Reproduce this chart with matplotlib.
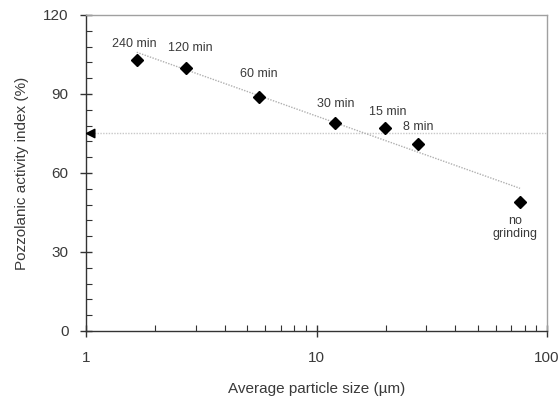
import matplotlib.pyplot as plt
import numpy as np
from matplotlib.ticker import FixedLocator, NullFormatter

plt.rcParams["font.family"] = ["Liberation Sans", "DejaVu Sans"]

TXT = "#3a3a3a"

# data
size_um = [1.66, 2.72, 5.63, 12.0, 19.8, 27.6, 76.4]
pai = [103, 100, 89, 79, 77, 71, 49]
labels = ["240 min", "120 min", "60 min", "30 min", "15 min", "8 min", "no\ngrinding"]
label_off = [(-1.5, 11), (3, 14), (0, 16), (0.5, 14), (2, 12), (0, 12), (-3.5, -18.5)]
ref_level = 75

fig = plt.figure(figsize=(5.6, 4.01), dpi=100)
ax = fig.add_axes([0.1536, 0.1746, 0.8232, 0.788])

# logarithmic trend line (least squares on log10 x)
b, a = np.polyfit(np.log10(size_um), pai, 1)
xt = np.array([size_um[0], size_um[-1]])
ax.plot(xt, a + b * np.log10(xt), color="#b0b0b0", lw=1.0, ls=(0, (1, 1)), zorder=2)

# reference level with arrow at the axis
arrow = [(0, 0), (1.6, 0.8), (1.6, -0.8), (0, 0)]
ax.plot([1, 100], [ref_level, ref_level], color="#c8c8c8", lw=1.0, ls=(0, (1, 1)), zorder=1)
ax.plot([1.0], [ref_level], marker=arrow, ms=12, color="black", clip_on=False, zorder=5)

ax.plot(size_um, pai, ls="none", marker="D", ms=6.5, color="black", zorder=4)

for x, y, t, (dx, dy) in zip(size_um, pai, labels, label_off):
    ax.annotate(t, (x, y), xytext=(dx, dy), textcoords="offset points",
                ha="center", va="center", fontsize=9, color=TXT, linespacing=1.1)

ax.set_xscale("log")
ax.set_xlim(1, 100)
ax.set_ylim(0, 120)
ax.set_yticks([0, 30, 60, 90, 120])
ax.yaxis.set_minor_locator(FixedLocator(np.arange(0, 121, 6)))
ax.set_xticks([1, 10, 100])
ax.set_xticklabels(["1", "10", "100"])
ax.xaxis.set_minor_formatter(NullFormatter())

ax.tick_params(axis="both", which="major", direction="inout", length=9, width=1.0,
               color="#333333", labelsize=11, labelcolor=TXT)
ax.tick_params(axis="both", which="minor", direction="in", length=4, width=0.8, color="#333333")
ax.tick_params(axis="x", which="major", pad=10)
ax.tick_params(axis="y", which="major", pad=8)

for s in ["left", "bottom"]:
    ax.spines[s].set_color("#333333")
    ax.spines[s].set_linewidth(1.0)
for s in ["top", "right"]:
    ax.spines[s].set_color("#a0a0a0")
    ax.spines[s].set_linewidth(1.0)

ax.set_xlabel("Average particle size (\u00b5m)", fontsize=11, color=TXT, labelpad=12)
ax.set_ylabel("Pozzolanic activity index (%)", fontsize=11, color=TXT, labelpad=10)

fig.savefig("out.png", dpi=100)
